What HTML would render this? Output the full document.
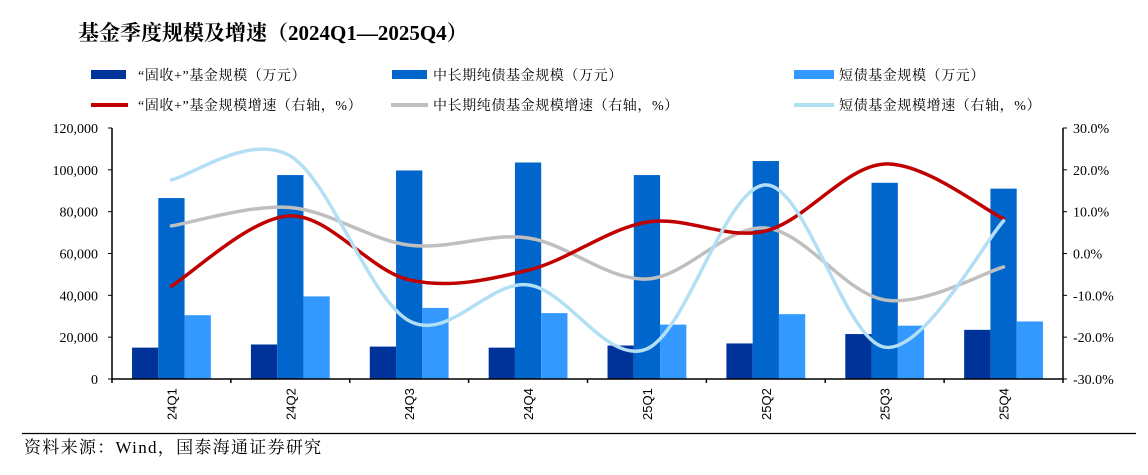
<!DOCTYPE html>
<html><head><meta charset="utf-8"><style>
body{margin:0;background:#fff;width:1148px;height:470px;overflow:hidden;font-family:"Liberation Serif","Noto Serif CJK SC",serif;}
svg text{font-family:"Liberation Serif","Noto Serif CJK SC",serif;}
</style></head><body>
<svg id="c" width="1148" height="470" xmlns="http://www.w3.org/2000/svg">
<text x="78" y="40" font-size="21" font-weight="bold" fill="#000">基金季度规模及增速（2024Q1—2025Q4）</text>
<g font-size="14" fill="#000" letter-spacing="0.6">
<rect x="91" y="70" width="35" height="9" fill="#003399"/>
<text x="138" y="80">“固收+”基金规模（万元）</text>
<rect x="392" y="70" width="35" height="9" fill="#0066cc"/>
<text x="433" y="80">中长期纯债基金规模（万元）</text>
<rect x="794" y="70" width="40" height="9" fill="#3399ff"/>
<text x="839" y="80">短债基金规模（万元）</text>
<line x1="91" y1="105" x2="128" y2="105" stroke="#c00000" stroke-width="4"/>
<text x="138" y="110">“固收+”基金规模增速（右轴，%）</text>
<line x1="391" y1="105" x2="428" y2="105" stroke="#bfbfbf" stroke-width="4"/>
<text x="433" y="110">中长期纯债基金规模增速（右轴，%）</text>
<line x1="794" y1="105" x2="834" y2="105" stroke="#b3dff5" stroke-width="4"/>
<text x="839" y="110">短债基金规模增速（右轴，%）</text>
</g>
<g id="plot"></g>
<line x1="22" y1="433.5" x2="1136" y2="433.5" stroke="#000" stroke-width="1.2"/>
<text x="24" y="453" font-size="17" letter-spacing="1.3">资料来源：Wind，国泰海通证券研究</text>
</svg>
<script>
const categories=["24Q1","24Q2","24Q3","24Q4","25Q1","25Q2","25Q3","25Q4"];
const fixedPlus=[15000,16500,15500,15000,16000,17000,21500,23500];
const midLong=[86500,97500,99700,103500,97500,104200,93800,91000];
const shortBond=[30500,39500,34000,31500,26000,31000,25500,27500];
const fixedPlusGrowth=[-7.8,9.0,-6.3,-4.0,7.5,5.4,21.4,8.3];
const midLongGrowth=[6.6,11.0,2.0,3.7,-6.1,6.1,-11.1,-3.2];
const shortGrowth=[17.6,23.3,-16.1,-7.5,-22.8,16.4,-22.4,7.8];
const leftTicks=[0,20000,40000,60000,80000,100000,120000];
const rightTicks=[-30,-20,-10,0,10,20,30];

const NS="http://www.w3.org/2000/svg";
const g=document.getElementById('plot');
const X0=112,X1=1063,Y0=379,Y1=128;
const step=(X1-X0)/categories.length;
const yL=v=>Y0-(v/120000)*(Y0-Y1);
const yR=v=>Y0-((v+30)/60)*(Y0-Y1);
const xc=i=>X0+step*(i+0.5);
function mk(t,a){const e=document.createElementNS(NS,t);for(const k in a)e.setAttribute(k,a[k]);g.appendChild(e);return e;}
function fmt(v){return v.toString().replace(/\B(?=(\d{3})+(?!\d))/g,",");}

const bw=step*0.221;
const seriesBars=[[fixedPlus,"#003399","bar-fixed-plus"],[midLong,"#0066cc","bar-mid-long"],[shortBond,"#3399ff","bar-short"]];
seriesBars.forEach((s,k)=>{s[0].forEach((v,i)=>{
 const r=mk('rect',{x:xc(i)+(k-1.5)*bw,y:yL(v),width:bw,height:Y0-yL(v),fill:s[1]});
 
 
});});

function smooth(vals){
 const p=vals.map((v,i)=>[xc(i),yR(v)]);
 let d='M'+p[0][0]+','+p[0][1];
 for(let i=0;i<p.length-1;i++){
  const a=p[i-1]||p[i],b=p[i],c=p[i+1],e=p[i+2]||c;
  d+=' C'+(b[0]+(c[0]-a[0])/6)+','+(b[1]+(c[1]-a[1])/6)+' '+(c[0]-(e[0]-b[0])/6)+','+(c[1]-(e[1]-b[1])/6)+' '+c[0]+','+c[1];
 }
 return d;
}
[[midLongGrowth,"#bfbfbf","line-mid-long-growth"],[fixedPlusGrowth,"#c00000","line-fixed-plus-growth"],[shortGrowth,"#b3dff5","line-short-growth"]].forEach(s=>{
 const p=mk('path',{d:smooth(s[0]),fill:'none',stroke:s[1],'stroke-width':3.5,'stroke-linecap':'round'});
 
 
});

const la=mk('path',{d:`M${X0},${Y1}V${Y0}`,stroke:'#000','stroke-width':1.5,fill:'none'});


const ra=mk('path',{d:`M${X1},${Y1}V${Y0}`,stroke:'#000','stroke-width':1.5,fill:'none'});


const xa=mk('path',{d:`M${X0},${Y0}H${X1}`,stroke:'#000','stroke-width':1.5,fill:'none'});



leftTicks.forEach(v=>{
 mk('line',{x1:X0-4,x2:X0,y1:yL(v),y2:yL(v),stroke:'#000'});
 const t=mk('text',{x:X0-14,y:yL(v)+5,'text-anchor':'end','font-size':14});
 t.textContent=fmt(v);
 
 
});
rightTicks.forEach(v=>{
 mk('line',{x1:X1,x2:X1+4,y1:yR(v),y2:yR(v),stroke:'#000'});
 const t=mk('text',{x:X1+10,y:yR(v)+5,'font-size':14});
 t.textContent=v.toFixed(1)+'%';
 
 
});
for(let i=0;i<=categories.length;i++)mk('line',{x1:X0+step*i,x2:X0+step*i,y1:Y0,y2:Y0+4,stroke:'#000','stroke-width':1.5});
categories.forEach((c,i)=>{
 const t=mk('text',{x:0,y:0,transform:`translate(${xc(i)+5},420) rotate(-90)`,'font-size':13,style:'font-family:"Liberation Sans",sans-serif'});
 t.textContent=c;
 
 
});
</script>
</body></html>
